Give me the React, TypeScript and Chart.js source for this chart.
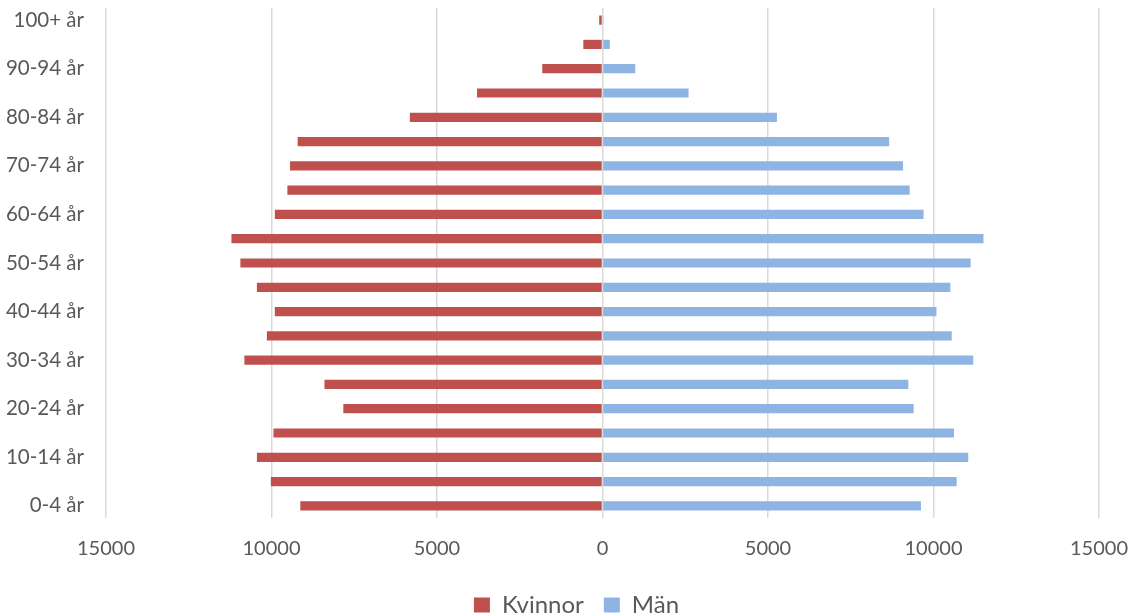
import React, { useEffect, useRef } from "react";
import { Chart, registerables } from "chart.js";

Chart.register(...registerables);

// Age groups, youngest first (drawn bottom to top)
const ageGroups = [
  "0-4 år", "5-9 år", "10-14 år", "15-19 år", "20-24 år", "25-29 år",
  "30-34 år", "35-39 år", "40-44 år", "45-49 år", "50-54 år", "55-59 år",
  "60-64 år", "65-69 år", "70-74 år", "75-79 år", "80-84 år", "85-89 år",
  "90-94 år", "95-99 år", "100+ år",
];

// Number of women per age group
const kvinnor = [
  9130, 10020, 10440, 9940, 7830, 8400,
  10820, 10140, 9900, 10440, 10940, 11210,
  9900, 9520, 9440, 9210, 5820, 3790,
  1820, 580, 100,
];

// Number of men per age group
const man = [
  9620, 10700, 11050, 10620, 9400, 9240,
  11200, 10550, 10090, 10510, 11120, 11510,
  9700, 9280, 9080, 8660, 5270, 2600,
  990, 220, 15,
];

const xTicks = [-15000, -10000, -5000, 0, 5000, 10000, 15000];

const FONT = "Lato, 'Noto Sans', sans-serif";
const TEXT = "#595959";

// nudges the legend slightly right of the canvas centre
const legendShift = {
  id: "legendShift",
  afterLayout(chart: any) {
    const lg = chart.legend;
    if (lg) {
      lg.left += 9;
      lg.right += 9;
    }
  },
};

export default function App() {
  const canvasRef = useRef<HTMLCanvasElement | null>(null);

  useEffect(() => {
    if (!canvasRef.current) return;
    const chart = new Chart(canvasRef.current, {
      type: "bar",
      data: {
        labels: ageGroups,
        datasets: [
          {
            label: "Kvinnor",
            data: kvinnor.map((v) => -v),
            backgroundColor: "#C0504D",
            barPercentage: 0.38,
            categoryPercentage: 1,
          },
          {
            label: "Män",
            data: man,
            backgroundColor: "#8DB4E2",
            barPercentage: 0.38,
            categoryPercentage: 1,
          },
        ],
      },
      plugins: [legendShift],
      options: {
        indexAxis: "y",
        animation: false,
        responsive: true,
        maintainAspectRatio: false,
        // the legend's own bottom spacing is pulled below the canvas edge
        layout: { padding: { top: 8, right: 0, bottom: -11, left: 0 } },
        scales: {
          x: {
            stacked: true,
            min: -15000,
            max: 15000,
            afterBuildTicks: (scale: any) => {
              scale.ticks = xTicks.map((v) => ({ value: v }));
            },
            afterFit: (scale: any) => {
              scale.height = 55;
              scale.paddingLeft = 0;
              scale.paddingRight = 36;
            },
            grid: {
              color: "#d9d9d9",
              lineWidth: 1.5,
              drawTicks: false,
            },
            border: { display: false },
            ticks: {
              color: TEXT,
              font: { family: FONT, size: 20 },
              padding: 19,
              maxRotation: 0,
              callback: (v: any) => String(Math.abs(Number(v))),
            },
          },
          y: {
            stacked: true,
            reverse: true,
            grid: { display: false, drawTicks: false },
            border: { display: false },
            afterFit: (scale: any) => {
              scale.width = 106;
              scale.paddingTop = 0;
              scale.paddingBottom = 0;
            },
            ticks: {
              color: TEXT,
              font: { family: FONT, size: 20.5 },
              padding: 22,
              autoSkip: false,
              callback: (_v: any, i: number) => (i % 2 === 0 ? ageGroups[i] : ""),
            },
          },
        },
        plugins: {
          legend: {
            position: "bottom",
            labels: {
              color: TEXT,
              font: { family: FONT, size: 24 },
              boxWidth: 16,
              boxHeight: 15,
              padding: 20,
            },
          },
          tooltip: { enabled: false },
        },
      },
    });
    return () => chart.destroy();
  }, []);

  return (
    <div style={{ position: "fixed", left: 0, top: 0, width: 1135, height: 616, background: "#fff" }}>
      <canvas ref={canvasRef} />
    </div>
  );
}
